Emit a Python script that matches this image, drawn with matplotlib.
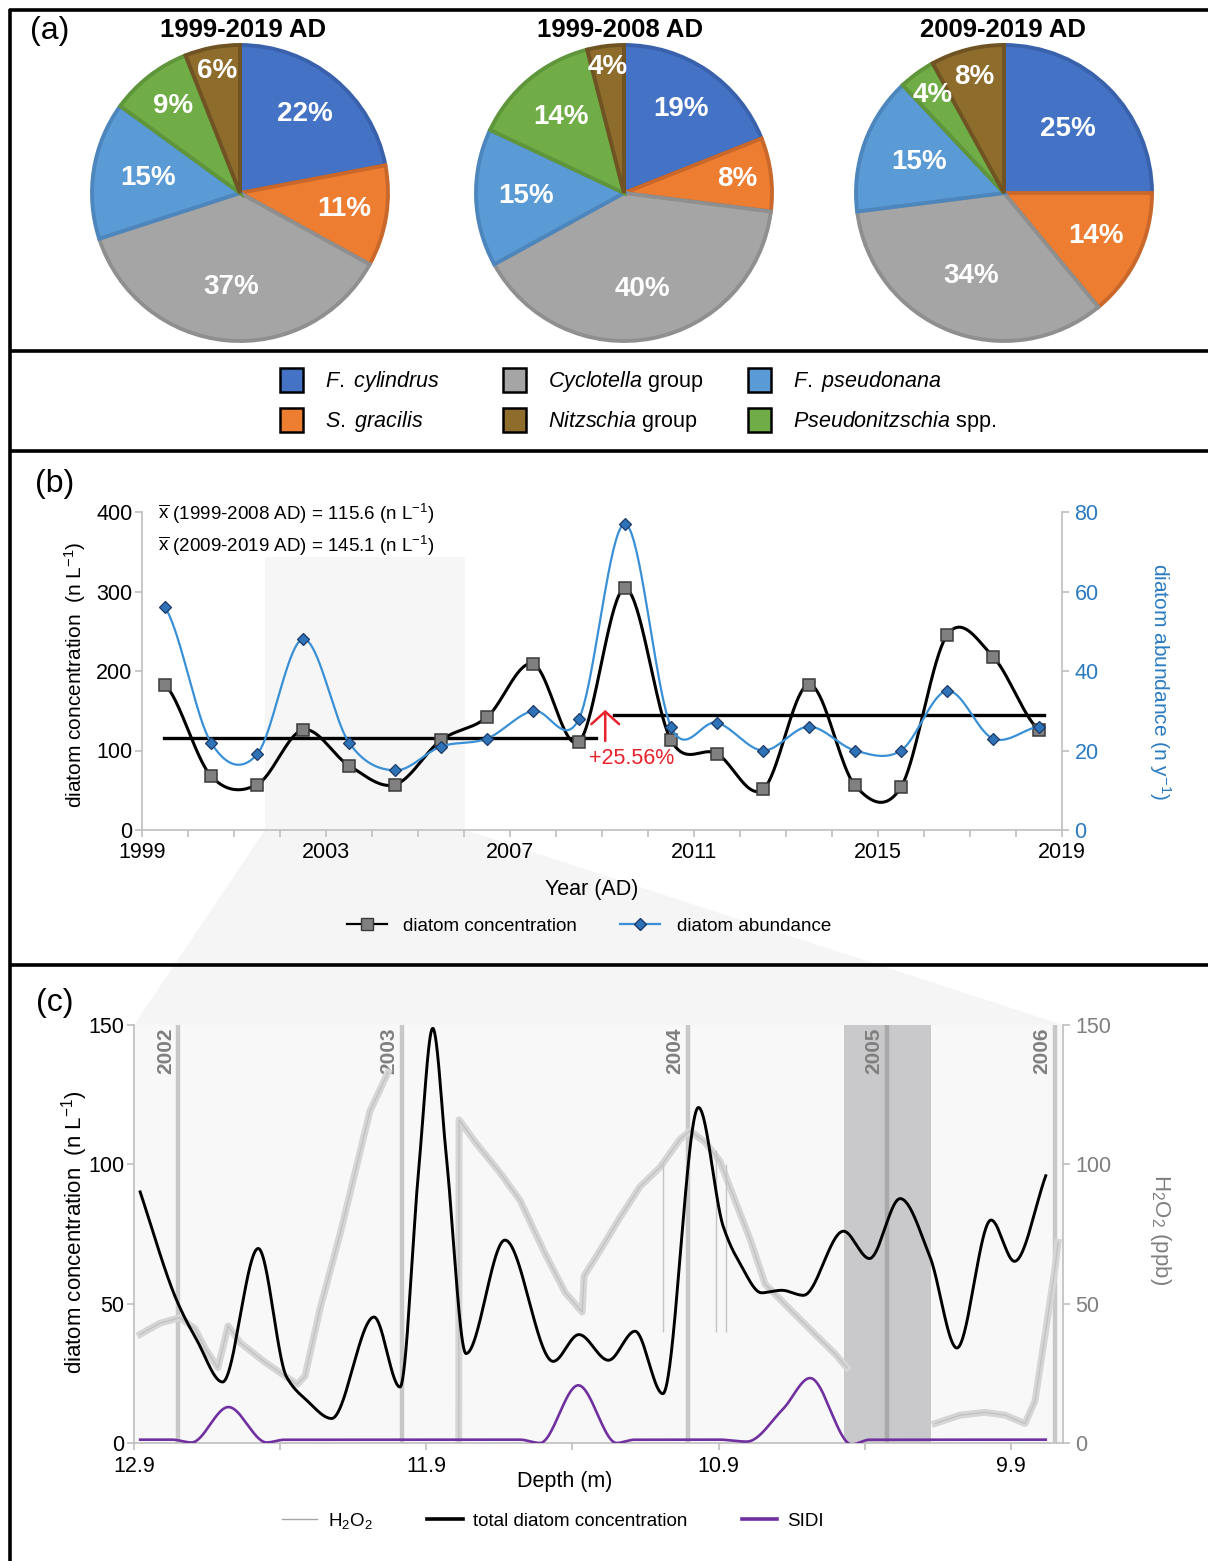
import numpy as np
import matplotlib
matplotlib.use("Agg")
import matplotlib.pyplot as plt
import matplotlib.transforms as mtransforms
from matplotlib.patches import Rectangle, Polygon
from matplotlib.lines import Line2D

plt.rcParams['font.family'] = ['Liberation Sans', 'DejaVu Sans']
plt.rcParams['mathtext.fontset'] = 'custom'
plt.rcParams['mathtext.rm'] = 'Liberation Sans'
plt.rcParams['mathtext.it'] = 'Liberation Sans:italic'
plt.rcParams['mathtext.bf'] = 'Liberation Sans:bold'

# ---------------------------------------------------------------- data
# (a) species shares (%) in each period, clockwise from 12 o'clock
species = ['F. cylindrus', 'S. gracilis', 'Cyclotella group',
           'F. pseudonana', 'Pseudonitzschia spp.', 'Nitzschia group']
periods = ['1999-2019 AD', '1999-2008 AD', '2009-2019 AD']
share_1999_2019 = [22, 11, 37, 15, 9, 6]
share_1999_2008 = [19, 8, 40, 15, 14, 4]
share_2009_2019 = [25, 14, 34, 15, 4, 8]

# (b) annual values, plotted at mid-year
sample_year = list(range(1999, 2019))
diatom_conc = [183, 68, 57, 126, 81, 57, 113, 142, 209, 111,
               304, 113, 96, 51, 183, 56, 54, 245, 218, 126]
diatom_abund = [56, 22, 19, 48, 22, 15, 21, 23, 30, 28,
                77, 26, 27, 20, 26, 20, 20, 35, 23, 26]
mean_1999_2008 = 115.6
mean_2009_2019 = 145.1
rise_pct = 25.56

# (c) depth profile 2002-2006
depth_ticks = [12.9, 11.9, 10.9, 9.9]
layer_year = ['2002', '2003', '2004', '2005', '2006']
layer_depth = [12.748, 11.984, 11.006, 10.325, 9.749]
summer_band = (10.471, 10.174)

conc_depth = [12.879, 12.754, 12.685, 12.597, 12.475, 12.378, 12.309, 12.224,
              12.079, 11.990, 11.924, 11.878, 11.830, 11.764, 11.631, 11.466,
              11.378, 11.277, 11.186, 11.091, 10.969, 10.884, 10.827, 10.753,
              10.684, 10.610, 10.473, 10.384, 10.279, 10.177, 10.085, 9.968,
              9.888, 9.781]
conc_value = [90.1, 51.2, 36.9, 21.9, 69.8, 23.7, 15.3, 8.8,
              45.2, 20.1, 101.0, 148.8, 101.0, 32.1, 72.8, 29.3,
              38.9, 29.7, 40.1, 17.7, 120.4, 77.6, 64.4, 53.9,
              54.8, 53.0, 76.0, 66.2, 87.7, 66.8, 34.1, 80.0,
              65.2, 95.9]

sidi_depth = [12.879, 12.770, 12.703, 12.577, 12.446, 12.383, 11.579, 11.511,
              11.380, 11.249, 11.186, 10.895, 10.804, 10.679, 10.587, 10.445,
              10.382, 9.781]
sidi_value = [1.2, 1.2, 0.2, 12.9, 0.2, 1.2, 1.2, 0.0,
              20.7, 0.0, 1.2, 1.2, 0.5, 12.3, 23.3, -0.5,
              1.2, 1.2]

h2o2_depth = [12.879, 12.811, 12.743, 12.691, 12.657, 12.613, 12.578, 12.537,
              12.452, 12.383, 12.342, 12.315, 12.264, 12.195, 12.144, 12.093,
              12.031, np.nan,
              11.789, 11.788, 11.733, 11.648, 11.579, 11.494, 11.425, 11.367,
              11.360, 11.306, 11.237, 11.169, 11.100, 11.032, 10.998, 10.947,
              10.895, 10.844, 10.792, 10.741, 10.656, 10.570, 10.502, 10.461,
              np.nan,
              10.160, 10.074, 9.989, 9.920, 9.852, 9.818, 9.783, 9.749, 9.739]
h2o2_ppb = [39, 43, 45, 41, 34, 27, 42, 36,
            29, 24, 21, 24, 48, 75, 97, 119,
            133, np.nan,
            0, 116, 108, 97, 87, 68, 54, 47,
            60, 69, 81, 92, 99, 109, 112, 108,
            101, 87, 73, 57, 48, 39, 32, 27,
            np.nan,
            7, 10, 11, 10, 7, 15, 39, 63, 72]
spike_depth = [11.090, 10.909, 10.875]
spike_top = [100, 105, 100]
spike_bottom = [40, 40, 40]

# ---------------------------------------------------------------- helpers
W, H, DPI = 1208, 1561, 100
fig = plt.figure(figsize=(W / DPI, H / DPI), dpi=DPI)


def fax(left, top, width, height, **kw):
    """Axes placed by a pixel box measured from the top-left corner."""
    return fig.add_axes([left / W, 1 - (top + height) / H, width / W, height / H], **kw)


def catmull_rom(x, y, n=40):
    x = np.asarray(x, float)
    y = np.asarray(y, float)
    yp = np.concatenate([[y[0]], y, [y[-1]]])
    t = np.linspace(0, 1, n)
    h00 = 2 * t**3 - 3 * t**2 + 1
    h10 = t**3 - 2 * t**2 + t
    h01 = -2 * t**3 + 3 * t**2
    h11 = t**3 - t**2
    xs, ys = [], []
    for i in range(len(x) - 1):
        p0, p1, p2, p3 = yp[i], yp[i + 1], yp[i + 2], yp[i + 3]
        m1, m2 = (p2 - p0) / 2, (p3 - p1) / 2
        ys.append(h00 * p1 + h10 * m1 + h01 * p2 + h11 * m2)
        xs.append(x[i] + t * (x[i + 1] - x[i]))
    return np.concatenate(xs), np.concatenate(ys)


def pchip(x, y, n=3000):
    x = np.asarray(x, float)
    y = np.asarray(y, float)
    o = np.argsort(x)
    x, y = x[o], y[o]
    h = np.diff(x)
    d = np.diff(y) / h
    m = np.zeros_like(y)
    for k in range(1, len(x) - 1):
        if d[k - 1] * d[k] > 0:
            w1 = 2 * h[k] + h[k - 1]
            w2 = h[k] + 2 * h[k - 1]
            m[k] = (w1 + w2) / (w1 / d[k - 1] + w2 / d[k])
    m[0], m[-1] = d[0], d[-1]
    xs = np.linspace(x[0], x[-1], n)
    i = np.clip(np.searchsorted(x, xs) - 1, 0, len(h) - 1)
    t = (xs - x[i]) / h[i]
    ys = ((2 * t**3 - 3 * t**2 + 1) * y[i] + (t**3 - 2 * t**2 + t) * h[i] * m[i]
          + (-2 * t**3 + 3 * t**2) * y[i + 1] + (t**3 - t**2) * h[i] * m[i + 1])
    return xs, ys


SPINE = '#BFBFBF'
BLUE_TXT = '#2B7BC0'
GRAY_TXT = '#7F7F7F'

# ---------------------------------------------------------------- overlay (frames, labels, zoom wedge)
ov = fax(0, 0, W, H, zorder=0)
ov.set_xlim(0, W)
ov.set_ylim(H, 0)
ov.axis('off')

ov.add_patch(Polygon([(265, 830), (465, 830), (1063, 1025), (134, 1025)],
                     closed=True, facecolor='#F5F5F5', edgecolor='none', zorder=0))
for yy in (10, 351, 451, 965):
    ov.plot([9, W], [yy, yy], color='black', lw=2.6, solid_capstyle='butt', zorder=5)
ov.plot([10, 10], [9, H], color='black', lw=2.6, solid_capstyle='butt', zorder=5)

ov.text(50, 31, '(a)', fontsize=23, ha='center', va='center')
ov.text(55, 484, '(b)', fontsize=23, ha='center', va='center')
ov.text(55, 1003, '(c)', fontsize=23, ha='center', va='center')

# ---------------------------------------------------------------- (a) pies
pie_colors = ['#4472C4', '#ED7D31', '#A5A5A5', '#5B9BD5', '#70AD47', '#8E6C2B']
pie_edges = ['#3A62AC', '#C9682A', '#8F8F8F', '#4D86BC', '#5F953B', '#6F5322']
label_r = [[0.69, 0.71, 0.64, 0.63, 0.74, 0.84],
           [0.69, 0.77, 0.66, 0.66, 0.67, 0.86],
           [0.61, 0.69, 0.60, 0.61, 0.82, 0.81]]
pie_cx = [240, 624, 1004]
title_x = [243, 620, 1003]
R = 148
for k, vals in enumerate([share_1999_2019, share_1999_2008, share_2009_2019]):
    ax = fax(pie_cx[k] - 150, 193 - 150, 300, 300)
    ax.set_facecolor('none')
    wedges, _ = ax.pie(vals, colors=pie_colors, startangle=90, counterclock=False,
                       radius=1.0, wedgeprops=dict(linewidth=2.8))
    for w, ec in zip(wedges, pie_edges):
        w.set_edgecolor(ec)
    ax.set_xlim(-150 / R, 150 / R)
    ax.set_ylim(-150 / R, 150 / R)
    cum = 0
    for v, r in zip(vals, label_r[k]):
        ang = np.deg2rad(90 - 360 * (cum + v / 2) / 100)
        ax.text(r * np.cos(ang), r * np.sin(ang), f'{v}%', color='white',
                fontsize=20, fontweight='bold', ha='center', va='center')
        cum += v
    ov.text(title_x[k], 30, periods[k], fontsize=18.5, fontweight='bold',
            ha='center', va='center')

legend_text = {
    'F. cylindrus': r'$\mathit{F.\ cylindrus}$',
    'S. gracilis': r'$\mathit{S.\ gracilis}$',
    'Cyclotella group': r'$\mathit{Cyclotella}$ group',
    'Nitzschia group': r'$\mathit{Nitzschia}$ group',
    'F. pseudonana': r'$\mathit{F.\ pseudonana}$',
    'Pseudonitzschia spp.': r'$\mathit{Pseudonitzschia}$ spp.',
}
legend_order = ['F. cylindrus', 'S. gracilis', 'Cyclotella group', 'Nitzschia group',
                'F. pseudonana', 'Pseudonitzschia spp.']
col_x = [280, 503, 748]
row_y = [380, 420]
for j, name in enumerate(legend_order):
    cx, ry = col_x[j // 2], row_y[j % 2]
    ov.add_patch(Rectangle((cx, ry - 12), 23, 24, facecolor=pie_colors[species.index(name)],
                           edgecolor='black', lw=1.8, zorder=3))
    ov.text(cx + 45, ry + 1, legend_text[name], fontsize=15.5, ha='left', va='center')

# ---------------------------------------------------------------- (b) time series
axb = fax(142, 512, 920, 318, zorder=2)
axb.set_facecolor('none')
axb.set_xlim(1999, 2019)
axb.set_ylim(0, 400)
axb.add_patch(Rectangle((2001.67, 0), 4.35, 344, facecolor='#F6F6F6', edgecolor='none', zorder=0))

xb = np.array(sample_year) + 0.5
sx, sy = catmull_rom(xb, diatom_conc)
axb.plot(sx, sy, color='black', lw=2.2, zorder=3)
axb.plot(xb, diatom_conc, ls='none', marker='s', ms=8.5, mfc='#808080', mec='#3A3A3A',
         mew=1.1, zorder=4)

yr = np.array(sample_year)
first = yr < 2009
axb.plot([xb[first][0] - 0.02, 2008.88], [mean_1999_2008] * 2, color='black', lw=2.4, zorder=2)
axb.plot([2009.27, xb[~first][-1] + 0.1], [mean_2009_2019] * 2, color='black', lw=2.4, zorder=2)

axb.annotate('', xy=(2009.07, 151), xytext=(2009.07, 112),
             arrowprops=dict(arrowstyle='->,head_length=0.45,head_width=0.5',
                             color='#E8232B', lw=1.8, mutation_scale=20,
                             shrinkA=0, shrinkB=0), zorder=5)
axb.text(2009.65, 90, f'+{rise_pct:.2f}%', color='#E8232B', fontsize=15.5,
         ha='center', va='center', zorder=6)
axb.text(1999.35, 397, r'$\overline{\mathrm{x}}$ (1999-2008 AD) = ' + f'{mean_1999_2008}' +
         r' (n L$^{-1}$)', fontsize=13.5, ha='left', va='center')
axb.text(1999.35, 357, r'$\overline{\mathrm{x}}$ (2009-2019 AD) = ' + f'{mean_2009_2019}' +
         r' (n L$^{-1}$)', fontsize=13.5, ha='left', va='center')

axb.set_xticks(range(1999, 2020, 4))
axb.set_xticks(range(1999, 2020), minor=True)
axb.set_yticks(range(0, 401, 100))
for s in ('top', 'right'):
    axb.spines[s].set_visible(False)
for s in ('left', 'bottom'):
    axb.spines[s].set_color(SPINE)
    axb.spines[s].set_linewidth(1.2)
axb.tick_params(which='both', direction='out', length=5, width=1.2, color=SPINE,
                labelsize=15.5, pad=2)
axb.tick_params(axis='x', pad=4)

axb2 = axb.twinx()
axb2.set_ylim(0, 80)
ax_, ay_ = catmull_rom(xb, diatom_abund)
axb2.plot(ax_, ay_, color='#3A90D6', lw=1.6, zorder=3)
axb2.plot(xb, diatom_abund, ls='none', marker='D', ms=6.5, mfc='#2E72B8', mec='#1E3A66',
          mew=0.9, zorder=4)
axb2.set_yticks(range(0, 81, 20))
for s in ('top', 'left', 'bottom'):
    axb2.spines[s].set_visible(False)
axb2.spines['right'].set_color(SPINE)
axb2.spines['right'].set_linewidth(1.2)
axb2.tick_params(direction='out', length=5, width=1.2, color=SPINE, labelsize=15.5,
                 labelcolor=BLUE_TXT, pad=4)

ov.text(75, 675, r'diatom concentration  (n L$^{-1}$)', rotation=90, fontsize=15,
        ha='center', va='center')
ov.text(1160, 682, r'diatom abundance (n y$^{-1}$)', rotation=270, fontsize=15,
        ha='center', va='center', color=BLUE_TXT)
ov.text(592, 889, 'Year (AD)', fontsize=15.5, ha='center', va='center')

hb = [Line2D([], [], color='black', lw=1.6, marker='s', ms=8.5, mfc='#808080', mec='#3A3A3A'),
      Line2D([], [], color='#3A90D6', lw=1.6, marker='D', ms=6.5, mfc='#2E72B8', mec='#1E3A66')]
fig.legend(hb, ['diatom concentration', 'diatom abundance'], loc='center',
           bbox_to_anchor=(589 / W, 1 - 926 / H), ncol=2, frameon=False, fontsize=13.5,
           handlelength=2.1, handletextpad=0.9, columnspacing=2.3)

# ---------------------------------------------------------------- (c) depth profile
axh = fax(134, 1025, 929, 418, zorder=1)      # H2O2 (right scale), drawn underneath
axh.set_facecolor('#F8F8F8')
axh.set_xlim(12.9, 9.722)
axh.set_ylim(0, 150)
axh.axvspan(*summer_band, color='#C9C9CB', lw=0, zorder=0)
for d, y in zip(layer_depth, layer_year):
    axh.axvline(d, color='#A9A9A9' if y == '2005' else '#C8C8C8', lw=3.2, zorder=1)
    tr = mtransforms.offset_copy(axh.get_xaxis_transform(), fig=fig, x=-13, y=-2, units='dots')
    axh.text(d, 1.0, y, transform=tr, rotation=90, fontsize=15, fontweight='bold',
             color=GRAY_TXT, ha='center', va='top', zorder=2)
axh.plot(h2o2_depth, h2o2_ppb, color='#D6D6D6', lw=5, zorder=3, solid_joinstyle='round')
axh.plot(h2o2_depth, h2o2_ppb, color='#C2C2C2', lw=1.0, zorder=3)
axh.vlines(spike_depth, spike_bottom, spike_top, color='#C4C4C4', lw=1.0, zorder=3)
axh.yaxis.tick_right()
axh.set_yticks(range(0, 151, 50))
axh.set_xticks([])
for s in ('top', 'left', 'bottom'):
    axh.spines[s].set_visible(False)
axh.spines['right'].set_color(SPINE)
axh.spines['right'].set_linewidth(1.2)
axh.tick_params(direction='out', length=5, width=1.2, color=SPINE, labelsize=15.5,
                labelcolor=GRAY_TXT, pad=4)

axc = fax(134, 1025, 929, 418, zorder=2)      # diatom concentration and SIDI (left scale)
axc.patch.set_visible(False)
axc.set_xlim(12.9, 9.722)
axc.set_ylim(0, 150)
cx_, cy_ = pchip(conc_depth, conc_value)
axc.plot(cx_, cy_, color='black', lw=2.1, zorder=4)
sx_, sy_ = pchip(sidi_depth, sidi_value)
axc.plot(sx_, sy_, color='#7030A0', lw=1.9, zorder=4)
axc.set_xticks(depth_ticks)
axc.set_xticklabels([f'{v:.1f}' for v in depth_ticks])
axc.set_xticks([12.4, 11.4, 10.4], minor=True)
axc.set_yticks(range(0, 151, 50))
for s in ('top', 'right'):
    axc.spines[s].set_visible(False)
for s in ('left', 'bottom'):
    axc.spines[s].set_color(SPINE)
    axc.spines[s].set_linewidth(1.2)
axc.tick_params(which='both', direction='out', length=5, width=1.2, color=SPINE,
                labelsize=15.5, pad=2)
axc.tick_params(axis='x', pad=4)

ov.text(75, 1232, r'diatom concentration  (n L$^{-1}$)', rotation=90, fontsize=16,
        ha='center', va='center')
ov.text(1160, 1230, r'H$_2$O$_2$ (ppb)', rotation=270, fontsize=16, ha='center',
        va='center', color=GRAY_TXT)
ov.text(565, 1482, 'Depth (m)', fontsize=15.5, ha='center', va='center')

hc = [Line2D([], [], color='#A6A6A6', lw=1.0),
      Line2D([], [], color='black', lw=2.6),
      Line2D([], [], color='#7030A0', lw=2.6)]
fig.legend(hc, [r'H$_2$O$_2$', 'total diatom concentration', 'SIDI'], loc='center',
           bbox_to_anchor=(553 / W, 1 - 1521 / H), ncol=3, frameon=False, fontsize=13.5,
           handlelength=1.9, handletextpad=0.55, columnspacing=2.9)

fig.savefig('out.png', dpi=DPI)
